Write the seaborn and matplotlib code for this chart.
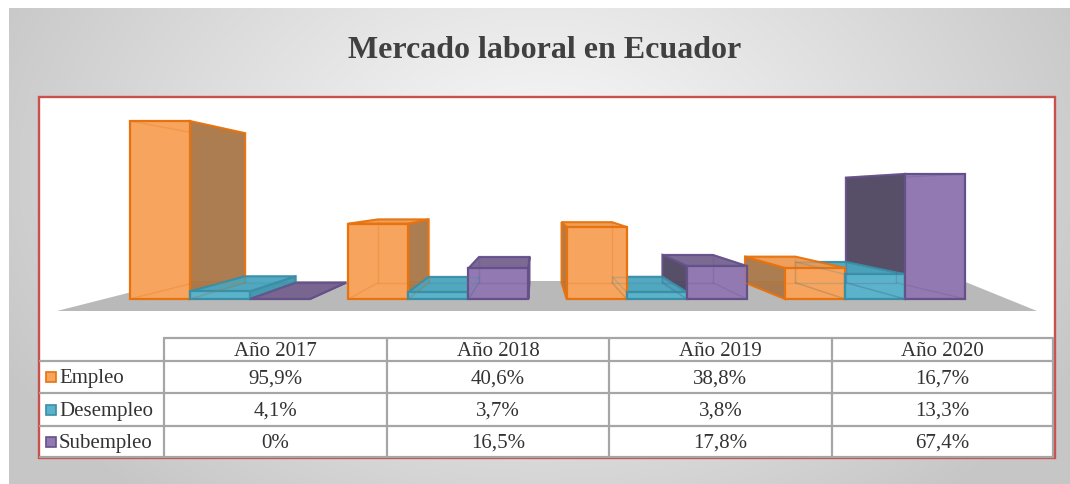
import numpy as np
import pandas as pd
import matplotlib
matplotlib.use("Agg")
import matplotlib.pyplot as plt
import seaborn as sns
from matplotlib.patches import Polygon, Rectangle

# ---------------- data ----------------
years = ["Año 2017", "Año 2018", "Año 2019", "Año 2020"]
series = ["Empleo", "Desempleo", "Subempleo"]
empleo = [95.9, 40.6, 38.8, 16.7]
desempleo = [4.1, 3.7, 3.8, 13.3]
subempleo = [0.0, 16.5, 17.8, 67.4]
title = "Mercado laboral en Ecuador"

# ---------------- style ----------------
face = {"Empleo": "#f6a45e", "Desempleo": "#5ab3ca", "Subempleo": "#9279b1"}
edge = {"Empleo": "#e8730e", "Desempleo": "#3a8ea6", "Subempleo": "#65518a"}
side = {"Empleo": "#a87648", "Desempleo": "#3f97ae", "Subempleo": "#4e4560"}
top = {"Empleo": "#ee9a52", "Desempleo": "#4aa6bf", "Subempleo": "#75628f"}

W, H, DPI = 1070, 485, 100
sns.set_theme(style="white")
plt.rcParams["font.family"] = ["Liberation Serif", "DejaVu Serif"]

fig = plt.figure(figsize=(W / DPI, H / DPI), dpi=DPI)
fig.patch.set_facecolor("white")


def px_rect(x0, y0, x1, y1):
    return [x0 / W, 1 - y1 / H, (x1 - x0) / W, (y1 - y0) / H]


# background with radial gradient
bg = fig.add_axes(px_rect(0, 0, W, H), zorder=0)
bg.set_xlim(0, W)
bg.set_ylim(H, 0)
bg.axis("off")
yy, xx = np.mgrid[9:H, 9:W]
d = np.sqrt(((xx - 540) / 600.0) ** 2 + ((yy - 170) / 430.0) ** 2)
d = np.clip(d, 0, 1) ** 1.1
c0 = np.array([0.975, 0.975, 0.975])
c1 = np.array([0.78, 0.78, 0.78])
img = c0 + (c1 - c0) * d[..., None]
bg.imshow(img, extent=(9, W, H, 9), aspect="auto", interpolation="bilinear", zorder=0)
bg.set_xlim(0, W)
bg.set_ylim(H, 0)

# white panel with red border
bg.add_patch(Rectangle((39, 98), 1016, 361, facecolor="white",
                       edgecolor="#c9504d", lw=1.7, zorder=1))
# title
bg.text(545, 50, title, ha="center", va="center", fontsize=23,
        fontweight="bold", color="#404040", zorder=2)
# floor
bg.add_patch(Polygon([(57, 312), (1037, 312), (963, 282), (175, 282)],
                     closed=True, facecolor="#b9b9b9", edgecolor="none", zorder=2))

# ---------------- bars ----------------
rows = []
for s, vals in zip(series, [empleo, desempleo, subempleo]):
    for y, v in zip(years, vals):
        rows.append({"year": y, "series": s, "value": v})
df = pd.DataFrame(rows)

ax = fig.add_axes(px_rect(40, 98, 1055, 337), zorder=2)
ax.patch.set_alpha(0)
sns.barplot(data=df, x="year", y="value", hue="series", order=years,
            hue_order=series, palette=face, width=0.825, gap=0,
            saturation=1, errorbar=None, legend=False, ax=ax)
ax.set_xlim(-0.824, 3.824)
ax.set_ylim(-19.94, 108.84)
ax.axis("off")

vp = np.array([535.0, H - 198.0])
sc = 0.84
inv = ax.transData.inverted()

boxes = []
for s, cont in zip(series, ax.containers):
    for p in cont:
        p.set_edgecolor(edge[s])
        p.set_linewidth(1.6)
        p.set_zorder(10)
        x0, w, h = p.get_x(), p.get_width(), p.get_height()
        F = ax.transData.transform([(x0, 0), (x0 + w, 0), (x0 + w, h), (x0, h)])
        B = vp + (F - vp) * sc
        boxes.append((s, F, B))

boxes.sort(key=lambda b: -abs((b[1][0][0] + b[1][1][0]) / 2 - vp[0]))
for i, (s, F, B) in enumerate(boxes):
    z = 3 + i * 0.01
    bl, br, tr, tl = F
    Bbl, Bbr, Btr, Btl = B
    faces = []
    if br[0] < vp[0]:
        faces.append(([br, tr, Btr, Bbr], side[s]))
    if bl[0] > vp[0]:
        faces.append(([bl, tl, Btl, Bbl], side[s]))
    if tl[1] < vp[1]:
        faces.append(([tl, tr, Btr, Btl], top[s]))
    for pts, col in faces:
        ax.add_patch(Polygon(inv.transform(np.array(pts)), closed=True,
                             facecolor=col, edgecolor=edge[s], lw=1.5,
                             alpha=0.95, zorder=z, clip_on=False))
    # faint hidden edges seen through the translucent front
    ax.add_patch(Polygon(inv.transform(B), closed=True, fill=False,
                         edgecolor=edge[s], lw=1.0, alpha=0.25, zorder=11,
                         clip_on=False))
    for a, b in zip(F, B):
        seg = inv.transform(np.array([a, b]))
        ax.plot(seg[:, 0], seg[:, 1], color=edge[s], lw=1.0, alpha=0.25,
                zorder=11, clip_on=False)

# ---------------- data table ----------------
tab = fig.add_axes(px_rect(0, 0, W, H), zorder=3)
tab.set_xlim(0, W)
tab.set_ylim(H, 0)
tab.axis("off")
tab.patch.set_alpha(0)

col_x = [164, 387, 609, 832, 1053]
row_y = [339, 362, 394, 427, 458]
gcol = "#a6a6a6"
glw = 1.6
tab.plot([col_x[0], col_x[-1]], [row_y[0]] * 2, color=gcol, lw=glw)
for yv in row_y[1:]:
    tab.plot([40, col_x[-1]], [yv] * 2, color=gcol, lw=glw)
for xv in col_x:
    tab.plot([xv, xv], [row_y[0], row_y[-1]], color=gcol, lw=glw)

tcol = "#333333"
fs = 15
for j, yname in enumerate(years):
    cx = (col_x[j] + col_x[j + 1]) / 2
    tab.text(cx, (row_y[0] + row_y[1]) / 2 + 1, yname, ha="center",
             va="center", fontsize=fs, color=tcol)


def fmt(v):
    if v == 0:
        return "0%"
    return f"{v:.1f}".replace(".", ",") + "%"


for i, (s, vals) in enumerate(zip(series, [empleo, desempleo, subempleo])):
    cy = (row_y[i + 1] + row_y[i + 2]) / 2 + 1
    tab.add_patch(Rectangle((46, cy - 6), 10, 10, facecolor=face[s],
                            edgecolor=edge[s], lw=1.2))
    tab.text(59, cy, s, ha="left", va="center", fontsize=fs, color=tcol)
    for j, v in enumerate(vals):
        cx = (col_x[j] + col_x[j + 1]) / 2
        tab.text(cx, cy, fmt(v), ha="center", va="center", fontsize=fs,
                 color=tcol)

fig.savefig("out.png", dpi=DPI)
